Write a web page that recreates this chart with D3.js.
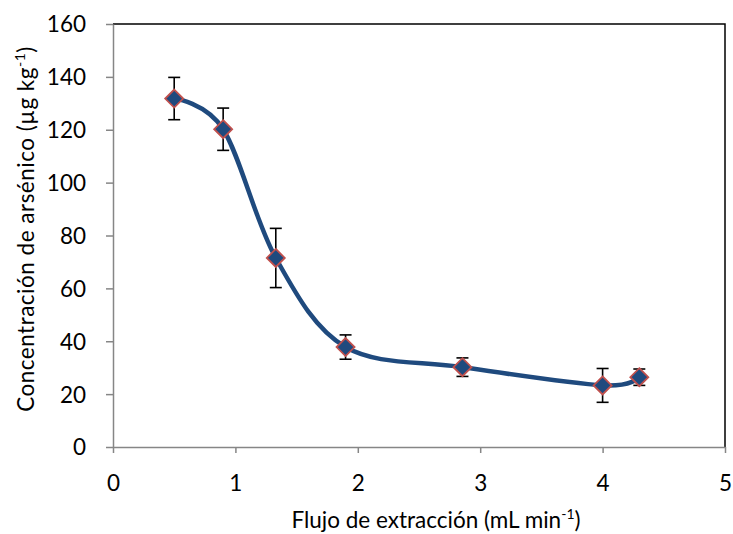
<!DOCTYPE html>
<html><head><meta charset="utf-8">
<script src="https://cdn.jsdelivr.net/npm/d3@7"></script>
<style>body{margin:0;background:#fff;} svg{display:block;}</style>
</head><body>
<svg id="chart" width="733" height="534"></svg>
<script>
const flow = [0.5, 0.9, 1.33, 1.9, 2.855, 4.0, 4.3];
const conc = [131.8, 120.2, 71.5, 37.8, 30.2, 23.3, 26.4];
const errs = [8, 8, 11.2, 4.6, 3.5, 6.4, 3.1];
const xTicks = [0, 1, 2, 3, 4, 5];
const yTicks = [0, 20, 40, 60, 80, 100, 120, 140, 160];

const svg = d3.select("#chart");
const L = 113, R = 725, T = 24, B = 447;
const x = d3.scaleLinear().domain([0, 5]).range([L, R]);
const y = d3.scaleLinear().domain([0, 160]).range([B, T]);
const font = "Lato, 'Open Sans', sans-serif";
const fs = 22.5;

// plot border top/right
svg.append("path").attr("d", `M${L},${T}H${R}V${B}`).attr("fill", "none").attr("stroke", "#000").attr("stroke-width", 1.5);

const xAxis = svg.append("g").attr("transform", `translate(0,${B})`)
  .call(d3.axisBottom(x).tickValues(xTicks).tickSize(6).tickSizeOuter(0).tickFormat(d3.format("d")));
const yAxis = svg.append("g").attr("transform", `translate(${L},0)`)
  .call(d3.axisLeft(y).tickValues(yTicks).tickSize(7).tickSizeOuter(0).tickPadding(20).tickFormat(d3.format("d")));
[xAxis, yAxis].forEach(a => {
  a.attr("font-size", fs).attr("font-family", font);
  a.select(".domain").attr("stroke", "#868686").attr("stroke-width", 1.5);
  a.selectAll(".tick line").attr("stroke", "#868686").attr("stroke-width", 1.5);
  a.selectAll("text").attr("font-family", font).attr("font-size", fs).attr("fill", "#000");
});
xAxis.selectAll("text").attr("y", 44).attr("dy", 0);
yAxis.selectAll("text").attr("dy", "0.35em");

const pts = flow.map((f, i) => ({x: f, y: conc[i], e: errs[i]}));

// smoothed line
svg.append("path").datum(pts)
  .attr("d", d3.line().x(d => x(d.x)).y(d => y(d.y)).curve(d3.curveCardinal.tension(0)))
  .attr("fill", "none").attr("stroke", "#1F4A7E").attr("stroke-width", 4.5);

// error bars
const eb = svg.append("g").attr("stroke", "#000").attr("stroke-width", 1.6);
pts.forEach(d => {
  eb.append("line").attr("x1", x(d.x)).attr("x2", x(d.x)).attr("y1", y(d.y + d.e)).attr("y2", y(d.y - d.e));
  eb.append("line").attr("x1", x(d.x) - 6).attr("x2", x(d.x) + 6).attr("y1", y(d.y + d.e)).attr("y2", y(d.y + d.e));
  eb.append("line").attr("x1", x(d.x) - 6).attr("x2", x(d.x) + 6).attr("y1", y(d.y - d.e)).attr("y2", y(d.y - d.e));
});

// markers
const s = 9;
svg.append("g").selectAll("path").data(pts).join("path")
  .attr("d", d => `M${x(d.x)},${y(d.y) - s}L${x(d.x) + s},${y(d.y)}L${x(d.x)},${y(d.y) + s}L${x(d.x) - s},${y(d.y)}Z`)
  .attr("fill", "#1F4A7E").attr("stroke", "#C0504D").attr("stroke-width", 1.8);

// axis titles
const xt = svg.append("text").attr("x", 436).attr("y", 528).attr("text-anchor", "middle")
  .attr("font-family", font).attr("font-size", fs).attr("fill", "#000");
xt.append("tspan").text("Flujo de extracción (mL min");
xt.append("tspan").attr("font-size", 14).attr("dy", -9).text("-1");
xt.append("tspan").attr("dy", 9).text(")");

const yt = svg.append("text").attr("transform", `translate(34,229) rotate(-90)`).attr("text-anchor", "middle")
  .attr("font-family", font).attr("font-size", fs).attr("letter-spacing", 0.5).attr("fill", "#000");
yt.append("tspan").text("Concentración de arsénico (µg kg");
yt.append("tspan").attr("font-size", 14).attr("dy", -9).text("-1");
yt.append("tspan").attr("dy", 9).text(")");
</script>
</body></html>
